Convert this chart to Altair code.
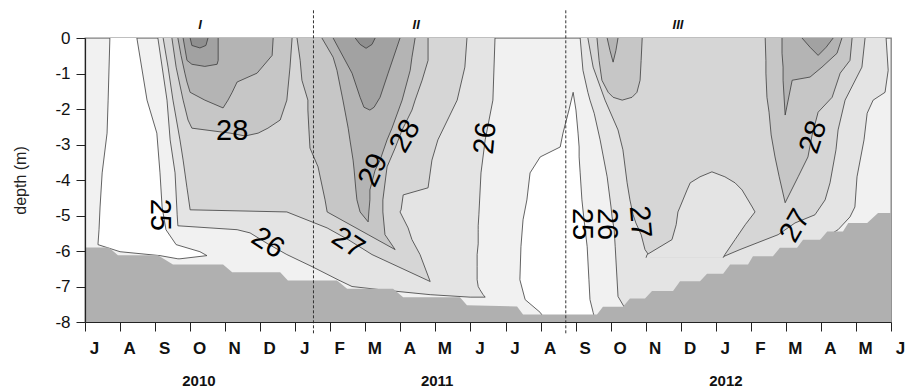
import altair as alt
import pandas as pd

# ---------------- data ----------------
month_labels = ["J", "A", "S", "O", "N", "D", "J", "F", "M", "A", "M", "J",
                "J", "A", "S", "O", "N", "D", "J", "F", "M", "A", "M", "J"]
year_labels = ["2010", "2011", "2012"]
year_month = [3.25, 10.05, 18.29]
period_labels = ["I", "II", "III"]
period_month = [3.28, 9.45, 16.92]
period_bounds = [6.52, 13.72]

# sediment / bottom profile (month index from Jul 2010, depth m)
bed_month = [0, 0.68, 0.94, 2.08, 2.51, 3.94, 4.20, 5.57, 5.79, 7.19,
             7.48, 8.79, 9.08, 10.70, 10.90, 12.33, 12.50, 14.61, 14.78, 15.35,
             15.55, 15.98, 16.18, 16.78, 16.98, 17.55, 17.75, 18.21, 18.41, 18.92,
             19.06, 19.63, 19.83, 20.32, 20.49, 20.98, 21.18, 21.63, 21.78, 22.32,
             22.63, 23.0]
bed_depth = [-5.9, -5.9, -6.12, -6.12, -6.38, -6.38, -6.6, -6.6, -6.83, -6.83,
             -7.06, -7.06, -7.3, -7.3, -7.53, -7.56, -7.79, -7.79, -7.57, -7.57,
             -7.34, -7.34, -7.13, -7.13, -6.85, -6.85, -6.64, -6.64, -6.38, -6.38,
             -6.15, -6.15, -5.91, -5.91, -5.68, -5.68, -5.45, -5.45, -5.21, -5.21,
             -4.93, -4.93]

# isotherm regions: depth rows with left / right month of each region
# below 25 degC
w1_depth = [0, -1.75, -2.68, -3.80, -4.76, -5.40, -5.82, -6.02, -6.13, -6.22]
w1_left = [0.71, 0.66, 0.63, 0.49, 0.43, 0.40, 0.37, 1.00, 2.14, 2.65]
w1_right = [1.48, 1.77, 2.05, 2.14, 2.20, 2.31, 2.60, 3.28, 3.48, 2.71]
w2_depth = [-1.53, -2.03, -2.68, -3.07, -3.35, -3.80, -4.56, -5.12, -5.88, -6.81, -7.37, -7.73, -7.93]
w2_left = [13.93, 13.81, 13.64, 13.56, 12.99, 12.70, 12.61, 12.50, 12.44, 12.41, 12.56, 12.99, 13.13]
w2_right = [13.93, 14.01, 14.07, 14.10, 14.10, 14.13, 14.18, 14.24, 14.33, 14.38, 14.41, 14.50, 14.55]
# >= 26
r26a_depth = [0, -1.75, -2.87, -3.80, -4.98, -5.29, -5.40, -5.49, -5.80, -6.10, -6.44, -6.81, -7.00, -7.09, -7.23, -7.30]
r26a_left = [2.08, 2.34, 2.43, 2.57, 2.63, 2.65, 4.34, 4.71, 5.22, 5.76, 6.48, 7.22, 7.62, 8.42, 9.85, 10.99]
r26a_right = [11.70, 11.64, 11.42, 11.30, 11.24, 11.22, 11.22, 11.22, 11.22, 11.19, 11.19, 11.19, 11.22, 11.27, 11.36, 11.42]
r26b_depth = [0, -0.91, -1.53, -1.75, -2.12, -2.87, -3.91, -4.76, -5.04, -5.40, -5.88, -7.28, -7.60]
r26b_left = [14.13, 14.21, 14.35, 14.41, 14.53, 14.70, 14.90, 15.01, 15.04, 15.10, 15.13, 15.21, 15.40]
r26b_right = [22.86, 22.92, 22.83, 22.49, 22.32, 22.23, 22.03, 21.97, 21.83, 21.49, 20.69, 17.55, 16.00]
# >= 27
r27a_depth = [0, -0.82, -1.75, -2.87, -3.44, -4.22, -4.42, -4.84, -4.90, -5.35, -5.68, -6.10, -6.86]
r27a_left = [2.23, 2.37, 2.51, 2.71, 2.80, 2.91, 2.94, 3.00, 5.76, 6.91, 7.51, 8.19, 9.85]
r27a_right = [10.90, 10.84, 10.62, 10.07, 9.90, 9.79, 9.08, 9.02, 8.99, 9.22, 9.33, 9.56, 9.85]
r27b_depth = [0, -0.82, -1.75, -2.59, -3.15, -4.08, -4.56, -4.98, -5.21, -5.54, -5.96, -6.16]
r27b_left = [14.35, 14.50, 14.84, 15.21, 15.35, 15.47, 15.55, 15.64, 15.72, 15.87, 15.98, 16.12]
r27b_right = [22.26, 22.17, 21.69, 21.49, 21.43, 21.26, 21.12, 20.83, 20.26, 19.78, 18.69, 18.21]
# cooler (<27) dome inside period III
hump_depth = [-3.77, -3.91, -4.08, -4.28, -4.76, -4.90, -5.26, -5.68, -6.10, -6.19]
hump_left = [17.89, 17.55, 17.27, 17.18, 16.98, 16.92, 16.87, 16.75, 16.04, 16.01]
hump_right = [17.89, 18.26, 18.55, 18.75, 19.04, 19.12, 18.84, 18.55, 18.26, 18.21]
# >= 28
r28a_depth = [0, -0.82, -1.75, -2.31, -2.54, -2.68, -2.76]
r28a_left = [2.48, 2.60, 2.80, 2.94, 3.05, 4.14, 4.57]
r28a_right = [5.91, 5.85, 5.76, 5.57, 5.22, 4.94, 4.57]
r28b_depth = [0, -0.63, -1.19, -1.75, -2.03, -2.59, -3.10, -3.63, -4.56, -4.90, -5.54, -5.96]
r28b_left = [6.05, 6.14, 6.19, 6.36, 6.36, 6.39, 6.42, 6.65, 6.85, 6.91, 8.08, 8.85]
r28b_right = [9.79, 9.79, 9.62, 9.42, 9.33, 9.05, 8.85, 8.62, 8.50, 8.50, 8.56, 8.85]
r28c_depth = [0, -0.63, -1.19, -1.53, -1.67, -1.75]
r28c_left = [14.61, 14.67, 14.75, 14.93, 15.07, 15.33]
r28c_right = [15.90, 15.87, 15.84, 15.75, 15.61, 15.33]
r28d_depth = [0, -0.63, -0.99, -1.67, -2.09, -2.73, -3.35, -3.91, -4.64]
r28d_left = [19.41, 19.43, 19.43, 19.46, 19.52, 19.58, 19.69, 19.81, 19.98]
r28d_right = [21.89, 21.83, 21.55, 21.32, 20.92, 20.75, 20.63, 20.35, 19.98]
# >= 29
r29a_depth = [0, -0.49, -0.99, -1.24, -1.53, -1.75, -1.97]
r29a_left = [2.65, 2.74, 2.85, 2.91, 3.00, 3.42, 3.94]
r29a_right = [5.37, 5.34, 4.91, 4.34, 4.20, 4.08, 3.94]
r29b_depth = [0, -0.54, -0.91, -1.75, -2.54, -2.87, -3.44, -3.72, -4.28, -4.56, -4.90, -5.18]
r29b_left = [6.76, 7.08, 7.19, 7.36, 7.51, 7.56, 7.65, 7.68, 7.73, 7.76, 7.85, 8.08]
r29b_right = [9.42, 9.33, 9.28, 9.05, 8.76, 8.62, 8.42, 8.28, 8.13, 8.13, 8.10, 8.08]
r29c_depth = [0, -0.35, -0.68]
r29c_left = [14.90, 14.98, 15.07]
r29c_right = [15.21, 15.15, 15.07]
r29d_depth = [0, -0.43, -0.82, -1.10, -1.19, -2.17]
r29d_left = [19.89, 19.89, 19.92, 19.92, 19.92, 19.98]
r29d_right = [21.60, 21.46, 21.03, 20.69, 20.18, 19.98]
# >= 30
r30a_depth = [0, -0.63, -0.74, -0.80]
r30a_left = [2.80, 2.91, 3.05, 3.42]
r30a_right = [3.80, 3.80, 3.77, 3.42]
r30b_depth = [0, -0.99, -1.67, -1.95, -2.03]
r30b_left = [7.08, 7.62, 7.85, 7.96, 8.13]
r30b_right = [8.99, 8.65, 8.42, 8.25, 8.13]
r30d_depth = [0, -0.26, -0.49]
r30d_left = [20.46, 20.69, 20.92]
r30d_right = [21.35, 21.15, 20.92]
# >= 31
r31a_depth = [0, -0.21, -0.28]
r31a_left = [3.00, 3.05, 3.28]
r31a_right = [3.51, 3.45, 3.28]
r31b_depth = [0, -0.18, -0.29]
r31b_left = [7.71, 7.85, 8.02]
r31b_right = [8.28, 8.19, 8.02]

# contour labels
lab_text = ["25", "28", "26", "27", "29", "28", "26", "25", "26", "27", "27", "28"]
lab_month = [2.14, 4.20, 5.22, 7.51, 8.22, 9.13, 11.42, 14.18, 14.90, 15.84, 20.26, 20.78]
lab_depth = [-4.98, -2.62, -5.77, -5.77, -3.72, -2.76, -2.82, -5.24, -5.24, -5.18, -5.29, -2.79]
lab_angle = [90, 0, 33, 33, 295, 300, 275, 90, 90, 85, 300, 288]

# ---------------- build ----------------
FONT = "Liberation Sans"
XS = alt.Scale(domain=[0, 23], nice=False, zero=False)
YS = alt.Scale(domain=[-8, 0], nice=False, zero=False)

level_fill = {"25": "#f1f1f1", "26": "#e4e4e4", "27": "#d6d6d6", "28": "#c6c6c6",
              "29": "#b4b4b4", "30": "#a2a2a2", "31": "#8f8f8f"}

groups = [
    ("#ffffff", [("w1", w1_depth, w1_left, w1_right), ("w2", w2_depth, w2_left, w2_right)]),
    (level_fill["26"], [("r26a", r26a_depth, r26a_left, r26a_right), ("r26b", r26b_depth, r26b_left, r26b_right)]),
    (level_fill["27"], [("r27a", r27a_depth, r27a_left, r27a_right), ("r27b", r27b_depth, r27b_left, r27b_right)]),
    (level_fill["26"], [("hump", hump_depth, hump_left, hump_right)]),
    (level_fill["28"], [("r28a", r28a_depth, r28a_left, r28a_right), ("r28b", r28b_depth, r28b_left, r28b_right),
                        ("r28c", r28c_depth, r28c_left, r28c_right), ("r28d", r28d_depth, r28d_left, r28d_right)]),
    (level_fill["29"], [("r29a", r29a_depth, r29a_left, r29a_right), ("r29b", r29b_depth, r29b_left, r29b_right),
                        ("r29c", r29c_depth, r29c_left, r29c_right), ("r29d", r29d_depth, r29d_left, r29d_right)]),
    (level_fill["30"], [("r30a", r30a_depth, r30a_left, r30a_right), ("r30b", r30b_depth, r30b_left, r30b_right),
                        ("r30d", r30d_depth, r30d_left, r30d_right)]),
    (level_fill["31"], [("r31a", r31a_depth, r31a_left, r31a_right), ("r31b", r31b_depth, r31b_left, r31b_right)]),
]

label_expr = "[" + ",".join("'%s'" % m for m in month_labels) + "][datum.value]"
XAX = alt.Axis(values=list(range(24)), labelExpr=label_expr, title=None, grid=False,
               tickSize=9, tickColor="#222", domainColor="#222", domainWidth=1.2,
               labelFontSize=17, labelFontWeight="bold", labelColor="#111", labelFont=FONT,
               labelPadding=9, labelOffset=9, labelFlush=False, labelOverlap=False, zindex=2)
YAX = alt.Axis(values=list(range(-8, 1)), labelExpr="'' + datum.value", title="depth (m)", grid=False,
               tickSize=9, tickColor="#222", domainColor="#222", domainWidth=1.2,
               labelFontSize=17, labelColor="#111", labelFont=FONT, labelPadding=6, labelFlush=False,
               labelOverlap=False, titleFont=FONT, titleFontSize=16, titleFontWeight="normal",
               titleColor="#222", titlePadding=26, zindex=2)


def X(field):
    return alt.X(field, scale=XS, axis=XAX)


def Y(field):
    return alt.Y(field, scale=YS, axis=YAX)


def YD(value):
    return alt.YDatum(value, scale=YS, axis=YAX)


layers = []
for color, regs in groups:
    rows = []
    for name, dep, lef, rig in regs:
        n = len(dep)
        # polygon outline as an open path: the open side is the surface (or the base)
        if dep[0] == 0:
            pts = [(lef[i], dep[i]) for i in range(n)] + [(rig[i], dep[i]) for i in reversed(range(n))]
        else:
            pts = [(lef[i], dep[i]) for i in reversed(range(n))] + [(rig[i], dep[i]) for i in range(n)]
        for k, (m, d) in enumerate(pts):
            rows.append({"region": name, "month": m, "depth": d, "k": k})
    layers.append(
        alt.Chart(pd.DataFrame(rows)).mark_line(
            fill=color, stroke="#3c3c3c", strokeWidth=0.8, interpolate="linear").encode(
            x=X("month:Q"), y=Y("depth:Q"), detail="region:N", order="k:Q")
    )

bed = alt.Chart(pd.DataFrame({"month": bed_month, "depth": bed_depth})).mark_area(
    color="#b0b0b0", interpolate="linear").encode(
    x=X("month:Q"), y=Y("depth:Q"), y2=alt.datum(-8))

lab_df = pd.DataFrame({"t": lab_text, "month": lab_month, "depth": lab_depth, "angle": lab_angle})
labels = alt.Chart(lab_df).mark_text(
    font=FONT, fontSize=29, color="#000", align="center", baseline="middle").encode(
    x=X("month:Q"), y=Y("depth:Q"), text="t:N",
    angle=alt.Angle("angle:Q", scale=None))

bounds = alt.Chart(pd.DataFrame({"month": period_bounds})).mark_rule(
    color="#333", strokeDash=[3, 2], strokeWidth=1).encode(
    x=X("month:Q"), y=YD(0.78), y2=alt.datum(-8.36))

periods = alt.Chart(pd.DataFrame({"t": period_labels, "month": period_month})).mark_text(
    font=FONT, fontSize=13, fontStyle="italic", fontWeight="bold", color="#111").encode(
    x=X("month:Q"), y=YD(0.38), text="t:N")

years = alt.Chart(pd.DataFrame({"t": year_labels, "month": year_month})).mark_text(
    font=FONT, fontSize=15, fontWeight="bold", color="#111").encode(
    x=X("month:Q"), y=YD(-9.65), text="t:N")

chart = alt.layer(*layers, bed, labels, bounds, periods, years).properties(
    width=806, height=284,
    padding={"left": 85, "top": 38, "right": 25, "bottom": 70},
    autosize="none",
).configure_view(fill="#f1f1f1", stroke="#808080", strokeWidth=1.3)

chart.save("out.html", embed_options={"renderer": "svg", "actions": False})
